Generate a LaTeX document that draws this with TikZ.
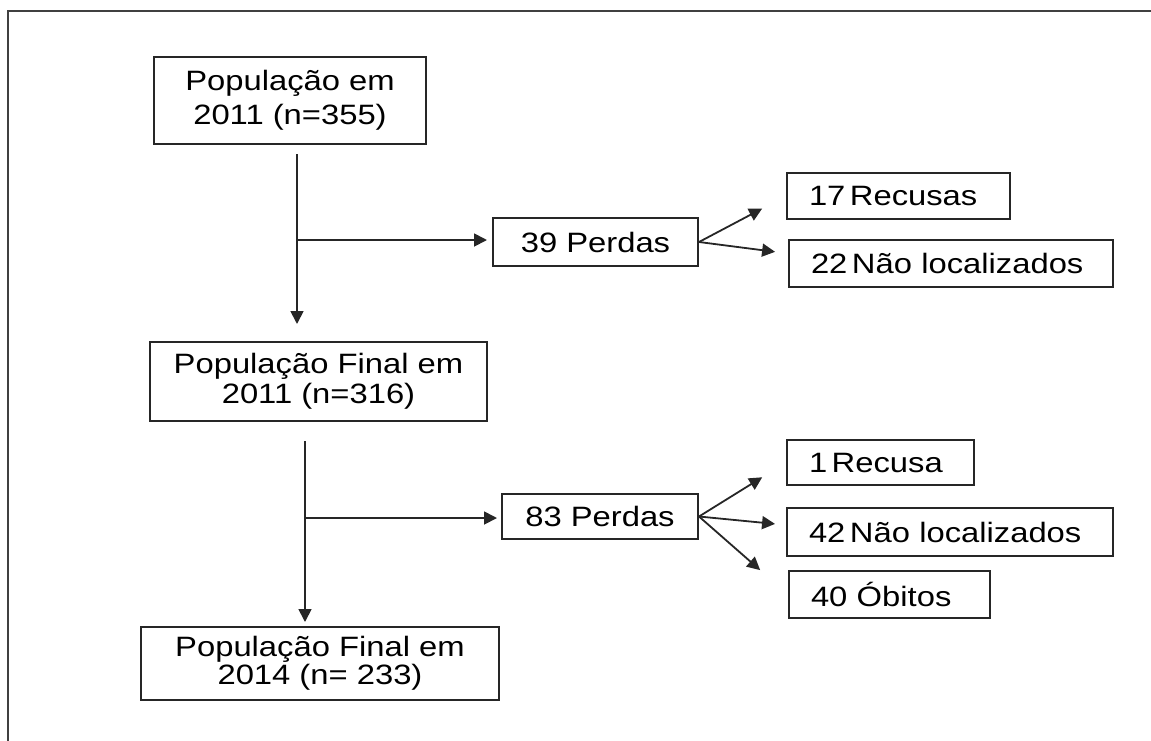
\documentclass[tikz,border=0pt]{standalone}
\usepackage{fontspec}
\setmainfont{Liberation Sans}[FakeStretch=1.17]
\usetikzlibrary{arrows.meta,calc}
\newcommand{\nsp}{\hspace{0.16em}}
\begin{document}
\begin{tikzpicture}[x=1pt,y=-1pt,
  box/.style={draw=black!85, line width=2pt, inner sep=0pt, align=center, font=\fontsize{28}{31}\selectfont},
  lbox/.style n args={2}{draw=black!85, line width=2pt, inner xsep=22pt, inner ysep=0pt, align=left, text width=#1, minimum height=#2, font=\fontsize{28}{31}\selectfont},
  conn/.style={draw=black!85, line width=1.8pt},
  arr/.style={conn, -{Triangle[length=13pt,width=13pt]}}
]
\useasboundingbox (0,0) rectangle (1151,740);
% outer frame (cropped at right and bottom)
\draw[line width=2pt, draw=black!75] (8,750) -- (8,11) -- (1160,11);

% main column
\node[box, minimum width=272pt, minimum height=87pt, font=\fontsize{28}{34}\selectfont] (p1) at (290,100.5) {População em\\2011 (n=355)};
\node[box, minimum width=337pt, minimum height=79pt, font=\fontsize{28}{30}\selectfont] (p2) at (318.5,381.5) {População Final em\\2011 (n=316)};
\node[box, minimum width=358pt, minimum height=73pt, font=\fontsize{28}{28}\selectfont] (p3) at (320,663.5) {População Final em\\2014 (n= 233)};

% losses
\node[box, minimum width=205pt, minimum height=48pt] (l1) at (595.5,242) {39 Perdas};
\node[box, minimum width=196pt, minimum height=45pt] (l2) at (600,516.5) {83 Perdas};

% details
\node[lbox={179pt}{46pt}, anchor=west] (r1) at (786,196) {\mbox{17\nsp Recusas}};
\node[lbox={280pt}{47pt}, anchor=west] (n1) at (788,263.5) {\mbox{22\nsp Não localizados}};
\node[lbox={143pt}{45pt}, anchor=west] (r2) at (786,462.5) {\mbox{1\nsp Recusa}};
\node[lbox={282pt}{48pt}, anchor=west] (n2) at (786,532) {\mbox{42\nsp Não localizados}};
\node[lbox={157pt}{47pt}, anchor=west] (o2) at (788,594.5) {\mbox{40 Óbitos}};

% vertical flow
\draw[arr, shorten >=26pt] ([xshift=7pt,yshift=-9pt]p1.south) -- ([xshift=7pt,yshift=-9pt]p1.south |- p2.north);
\draw[arr, shorten >=23pt] ([xshift=-13.5pt,yshift=-19pt]p2.south) -- ([xshift=-13.5pt,yshift=-19pt]p2.south |- p3.north);

% branches
\coordinate (b1) at (297,240);
\draw[arr, shorten >=5pt] (b1) -- (b1 -| l1.west);
\coordinate (b2) at (305,518);
\draw[arr, shorten >=4pt] (b2) -- (b2 -| l2.west);

% fans
\draw[arr, shorten >=27pt] (l1.east) -- (r1.west);
\draw[arr, shorten >=13pt] (l1.east) -- ($(n1.west)+(0,-10)$);
\draw[arr, shorten >=28pt] (l2.east) -- (r2.west);
\draw[arr, shorten >=11pt] (l2.east) -- ($(n2.west)+(0,-7)$);
\draw[arr, shorten >=37pt] (l2.east) -- (o2.west);
\end{tikzpicture}
\end{document}
